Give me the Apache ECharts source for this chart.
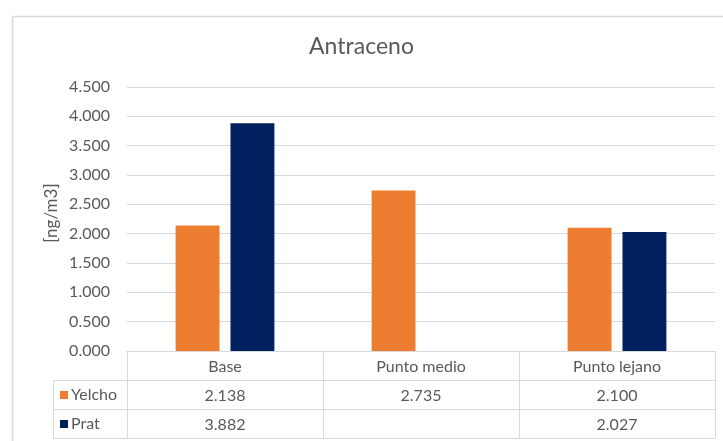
<!DOCTYPE html>
<html>
<head>
<meta charset="utf-8">
<script src="https://cdn.jsdelivr.net/npm/echarts@6/dist/echarts.min.js"></script>
<style>
  html, body { margin: 0; padding: 0; background: #fff; }
  #chart { width: 723px; height: 441px; }
</style>
</head>
<body>
<div id="chart"></div>
<script>
// Antraceno concentrations per sampling point
const categories = ['Base', 'Punto medio', 'Punto lejano'];
const seriesNames = ['Yelcho', 'Prat'];
const yelcho = [2.138, 2.735, 2.100];
const prat = [3.882, null, 2.027];
const yTicks = { min: 0, max: 4.5, step: 0.5 };
const yTitle = '[ng/m3]';

const FONT = 'Lato, "Liberation Sans", sans-serif';
const TEXT = '#595959';
const LINE = '#d9d9d9';
const COLORS = ['#ED7D31', '#002060'];
const ROW_H = 29;

const fmt = v => (v == null ? ' ' : v.toFixed(3));

const chart = echarts.init(document.getElementById('chart'), null, { renderer: 'canvas' });

const option = {
  backgroundColor: '#fff',
  animation: false,
  color: COLORS,
  title: {
    text: 'Antraceno',
    left: 'center',
    top: 30,
    textStyle: { fontFamily: FONT, fontSize: 23, fontWeight: 'normal', color: TEXT }
  },
  legend: {
    data: seriesNames,
    orient: 'vertical',
    left: 55,
    top: 382,
    itemWidth: 8,
    itemHeight: 8,
    itemGap: ROW_H - 16,
    icon: 'rect',
    textStyle: { fontFamily: FONT, fontSize: 16, color: TEXT, padding: [0, 0, 0, -2] }
  },
  grid: { left: 127, right: 8, top: 87, bottom: 90 },
  xAxis: {
    type: 'category',
    data: categories,
    axisLine: { show: true, lineStyle: { color: LINE, width: 1 } },
    axisTick: { show: true, length: ROW_H * 3, lineStyle: { color: LINE, width: 1 } },
    axisLabel: {
      margin: 1,
      interval: 0,
      formatter: (val, idx) =>
        '{h|' + val + '}\n{v|' + fmt(yelcho[idx]) + '}\n{v|' + fmt(prat[idx]) + '}',
      rich: {
        h: { fontFamily: FONT, fontSize: 16, color: TEXT, lineHeight: ROW_H, height: ROW_H },
        v: { fontFamily: FONT, fontSize: 16, color: TEXT, lineHeight: ROW_H, height: ROW_H }
      }
    }
  },
  yAxis: {
    type: 'value',
    min: yTicks.min,
    max: yTicks.max,
    interval: yTicks.step,
    axisLine: { show: false },
    axisTick: { show: false },
    axisLabel: {
      margin: 17,
      formatter: v => v.toFixed(3),
      fontFamily: FONT, fontSize: 16, color: TEXT
    },
    splitLine: { lineStyle: { color: LINE, width: 1 } }
  },
  series: [
    { name: seriesNames[0], type: 'bar', data: yelcho, barWidth: '22.4%', barGap: '25%' },
    { name: seriesNames[1], type: 'bar', data: prat, barWidth: '22.4%', barGap: '25%' }
  ]
};

chart.setOption(option);

// Data-table rules below the category axis, the value-axis title and the frame
const gridRect = chart.getModel().getComponent('grid', 0).coordinateSystem.getRect();
const right = gridRect.x + gridRect.width;
const base = Math.round(gridRect.y + gridRect.height) + 0.5;
const legendLeft = 53.5;
const els = [];
for (let r = 1; r <= 3; r++) {
  const y = base + r * ROW_H;
  els.push({ type: 'line', shape: { x1: legendLeft, y1: y, x2: right, y2: y },
             style: { stroke: LINE, lineWidth: 1 }, silent: true });
}
els.push({ type: 'line', shape: { x1: legendLeft, y1: base + ROW_H, x2: legendLeft, y2: base + 3 * ROW_H },
           style: { stroke: LINE, lineWidth: 1 }, silent: true });
els.push({
  type: 'text',
  x: gridRect.x - 75,
  y: gridRect.y + gridRect.height / 2 - 6,
  rotation: Math.PI / 2,
  style: { text: yTitle, fontFamily: FONT, fontSize: 17, fill: TEXT, align: 'center', verticalAlign: 'middle' },
  silent: true
});
els.push({ type: 'rect', shape: { x: 12.5, y: 16.5, width: 800, height: 600 },
           style: { fill: null, stroke: LINE, lineWidth: 1.5 }, silent: true, z: -1 });
chart.setOption({ graphic: els });
</script>
</body>
</html>
